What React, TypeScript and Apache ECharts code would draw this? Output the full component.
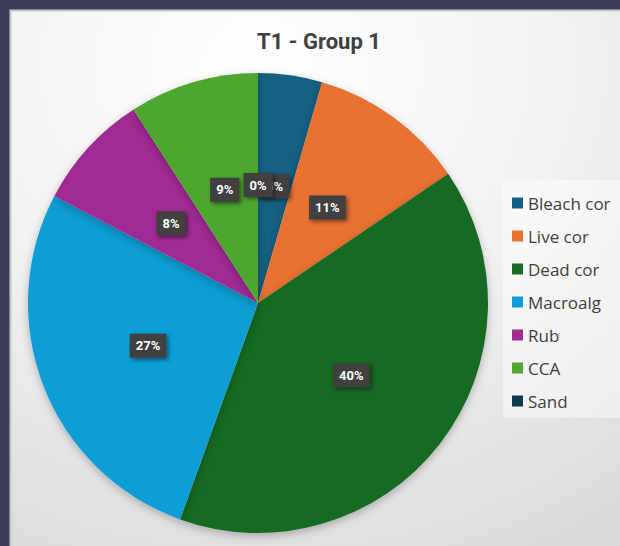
import React, { useEffect, useRef } from "react";
import * as echarts from "echarts";

const title = "T1 - Group 1";
const categories = ["Bleach cor", "Live cor", "Dead cor", "Macroalg", "Rub", "CCA", "Sand"];
const values = [4.5, 11.0, 40.0, 27.2, 8.2, 9.1, 0];
const colors = ["#156082", "#e97132", "#196b24", "#0f9ed5", "#a02b93", "#4ea72e", "#0d3a4f"];

export default function App() {
  const ref = useRef<HTMLDivElement>(null);
  useEffect(() => {
    if (!ref.current) return;
    const chart = echarts.init(ref.current, null, { renderer: "svg" });
    chart.setOption({
      animation: false,
      backgroundColor: "#3e3f5b",
      title: {
        text: title,
        left: 314,
        textAlign: "center",
        top: 25,
        textStyle: { fontFamily: "Roboto", fontSize: 22, fontWeight: "bold", color: "#404040" },
      },
      graphic: [
        {
          type: "rect",
          z: -10,
          shape: { x: 10.5, y: 10.5, width: 620, height: 546 },
          style: {
            fill: new echarts.graphic.RadialGradient(0.4, 0.1, 1.0, [
              { offset: 0, color: "#ffffff" },
              { offset: 0.5, color: "#f2f2f2" },
              { offset: 1, color: "#dadada" },
            ]),
            stroke: "#c8c8cc",
            lineWidth: 2,
          },
        },
        {
          type: "rect",
          z: -9,
          shape: { x: 503, y: 180, width: 120, height: 238 },
          style: { fill: "rgba(255,255,255,0.45)" },
        },
      ],
      legend: {
        orient: "vertical",
        left: 507,
        top: 188,
        icon: "rect",
        itemWidth: 11,
        itemHeight: 11,
        itemGap: 13,
        data: categories,
        textStyle: { fontFamily: "Open Sans", fontSize: 17, color: "#404040", lineHeight: 20 },
      },
      series: [
        {
          type: "pie",
          center: [258, 303],
          radius: 230,
          startAngle: 90,
          clockwise: true,
          avoidLabelOverlap: false,
          minShowLabelAngle: -1,
          labelLayout: { hideOverlap: false },
          itemStyle: { shadowBlur: 8, shadowColor: "rgba(0,0,0,0.25)", shadowOffsetY: 3 },
          label: {
            show: true,
            position: "inside",
            formatter: (p: any) => Math.round(p.percent) + "%",
            backgroundColor: "#404040",
            color: "#ffffff",
            fontFamily: "Roboto",
            fontWeight: "bold",
            fontSize: 13,
            padding: [6, 6, 5, 6],
            shadowBlur: 4,
            shadowColor: "rgba(0,0,0,0.5)",
            shadowOffsetX: 2,
            shadowOffsetY: 2,
          },
          labelLine: { show: false },
          data: categories.map((c, i) => ({
            name: c,
            value: values[i],
            itemStyle: { color: colors[i] },
          })),
        },
      ],
    });
    return () => chart.dispose();
  }, []);
  return <div ref={ref} style={{ position: "fixed", left: 0, top: 0, width: 620, height: 546 }} />;
}
